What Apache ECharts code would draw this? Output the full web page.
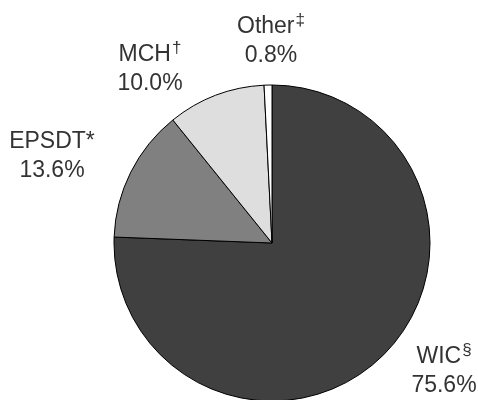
<!DOCTYPE html>
<html>
<head>
<meta charset="utf-8">
<script src="https://cdn.jsdelivr.net/npm/echarts@6/dist/echarts.min.js"></script>
<style>
  html, body { margin: 0; padding: 0; background: #fff; }
  #chart { width: 478px; height: 400px; }
</style>
</head>
<body>
<div id="chart"></div>
<script>
// Share of program funding, clockwise from 12 o'clock
const programs = ['WIC', 'EPSDT', 'MCH', 'Other'];
const marks = ['§', '*', '†', '‡'];
const shares = [75.6, 13.6, 10.0, 0.8];

const sliceColors = ['#404040', '#808080', '#dedede', '#ffffff'];
// Centre of each two-line label block (px)
const labelCenters = [[444, 371], [52, 156], [150, 69], [271, 41]];

const chart = echarts.init(document.getElementById('chart'), null, { renderer: 'canvas' });

const data = programs.map((name, i) => ({
  name: name,
  value: shares[i],
  itemStyle: { color: sliceColors[i] }
}));

chart.setOption({
  animation: false,
  series: [{
    type: 'pie',
    center: [272, 243],
    radius: 158,
    startAngle: 90,
    clockwise: true,
    avoidLabelOverlap: false,
    itemStyle: { borderColor: '#000', borderWidth: 1 },
    labelLine: { show: false },
    emphasis: { disabled: true },
    label: {
      show: true,
      position: 'outside',
      formatter: p => {
        const m = marks[p.dataIndex];
        const head = m === '*' ? '{main|' + p.name + '*}' : '{main|' + p.name + '}{sup|' + m + '}';
        return head + '\n{main|' + p.value.toFixed(1) + '%}';
      },
      rich: {
        main: {
          fontFamily: 'Liberation Sans, Arial, sans-serif',
          fontSize: 23,
          color: '#333',
          lineHeight: 29
        },
        sup: {
          fontFamily: 'Liberation Sans, Arial, sans-serif',
          fontSize: 17,
          color: '#333',
          lineHeight: 18,
          verticalAlign: 'top',
          padding: [0, 0, 0, 1]
        }
      }
    },
    labelLayout: p => ({
      x: labelCenters[p.dataIndex][0],
      y: labelCenters[p.dataIndex][1],
      align: 'center',
      verticalAlign: 'middle',
      hideOverlap: false
    }),
    data: data
  }]
});
</script>
</body>
</html>
